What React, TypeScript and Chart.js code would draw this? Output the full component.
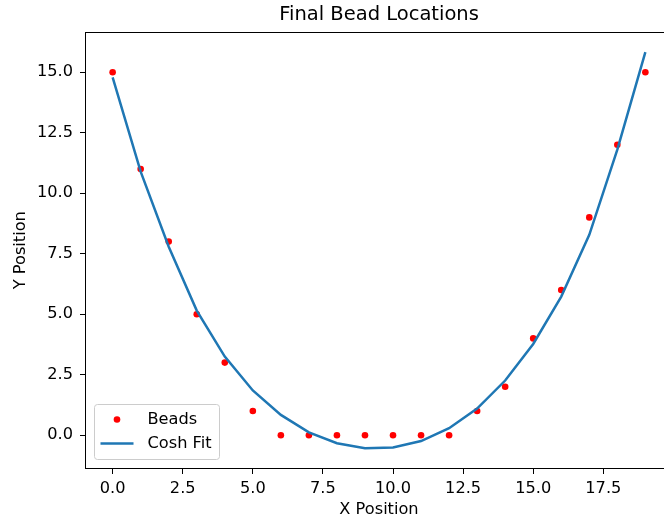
import React, { useEffect, useRef } from "react";
import { Chart, registerables } from "chart.js";

Chart.register(...registerables);

const xPositions = [0, 1, 2, 3, 4, 5, 6, 7, 8, 9, 10, 11, 12, 13, 14, 15, 16, 17, 18, 19];
const beadY = [15, 11, 8, 5, 3, 1, 0, 0, 0, 0, 0, 0, 0, 1, 2, 4, 6, 9, 12, 15];
const fitY = [14.79, 10.89, 7.79, 5.15, 3.25, 1.85, 0.84, 0.12, -0.33, -0.54, -0.51, -0.24, 0.29, 1.1, 2.26, 3.77, 5.73, 8.28, 11.8, 15.83];
const xTicks = [0, 2.5, 5, 7.5, 10, 12.5, 15, 17.5];
const yTicks = [0, 2.5, 5, 7.5, 10, 12.5, 15];
const seriesNames = ["Beads", "Cosh Fit"];

const FONT = "'DejaVu Sans', sans-serif";
const BEAD_COLOR = "#ff0000";
const FIT_COLOR = "#1f77b4";
const FS = 16.2;

const framePlugin = {
  id: "frameAndLegend",
  afterDraw(chart: any) {
    const { ctx, chartArea } = chart;
    const { left, right, top, bottom } = chartArea;
    ctx.save();
    // spines
    ctx.strokeStyle = "#000";
    ctx.lineWidth = 1;
    ctx.strokeRect(Math.round(left) - 0.5, Math.round(top) + 0.5, right - left, Math.round(bottom) - Math.round(top));

    // legend
    const bx = left + 8.5;
    const bw = 125;
    const bh = 55;
    const by = bottom - 8.5 - bh;
    const r = 3;
    ctx.beginPath();
    ctx.moveTo(bx + r, by);
    ctx.lineTo(bx + bw - r, by);
    ctx.arcTo(bx + bw, by, bx + bw, by + r, r);
    ctx.lineTo(bx + bw, by + bh - r);
    ctx.arcTo(bx + bw, by + bh, bx + bw - r, by + bh, r);
    ctx.lineTo(bx + r, by + bh);
    ctx.arcTo(bx, by + bh, bx, by + bh - r, r);
    ctx.lineTo(bx, by + r);
    ctx.arcTo(bx, by, bx + r, by, r);
    ctx.closePath();
    ctx.fillStyle = "rgba(255,255,255,0.8)";
    ctx.fill();
    ctx.strokeStyle = "#cccccc";
    ctx.lineWidth = 1;
    ctx.stroke();

    const row1 = by + 15;
    const row2 = by + 39;
    ctx.fillStyle = BEAD_COLOR;
    ctx.beginPath();
    ctx.arc(bx + 22.5, row1, 3.3, 0, Math.PI * 2);
    ctx.fill();
    ctx.strokeStyle = FIT_COLOR;
    ctx.lineWidth = 2.5;
    ctx.beginPath();
    ctx.moveTo(bx + 6, row2);
    ctx.lineTo(bx + 39, row2);
    ctx.stroke();

    ctx.fillStyle = "#000";
    ctx.font = `${FS}px ${FONT}`;
    ctx.textBaseline = "middle";
    ctx.textAlign = "left";
    ctx.fillText(seriesNames[0], bx + 53, row1);
    ctx.fillText(seriesNames[1], bx + 53, row2);
    ctx.restore();
  },
};

export default function App() {
  const ref = useRef<HTMLCanvasElement | null>(null);

  useEffect(() => {
    if (!ref.current) return;
    const beads = xPositions.map((x, i) => ({ x, y: beadY[i] }));
    const fit = xPositions.map((x, i) => ({ x, y: fitY[i] }));
    const tickFont = { family: FONT, size: FS };
    const chart = new Chart(ref.current, {
      type: "scatter",
      data: {
        datasets: [
          {
            label: seriesNames[1],
            data: fit,
            showLine: true,
            borderColor: FIT_COLOR,
            backgroundColor: FIT_COLOR,
            borderWidth: 2.5,
            pointRadius: 0,
            tension: 0,
          },
          {
            label: seriesNames[0],
            data: beads,
            showLine: false,
            pointRadius: 3.3,
            pointBorderWidth: 0,
            backgroundColor: BEAD_COLOR,
            borderColor: BEAD_COLOR,
          },
        ],
      },
      options: {
        responsive: false,
        animation: false,
        devicePixelRatio: 1,
        layout: { padding: { left: 0, right: 28, top: 0, bottom: 0 } },
        plugins: {
          legend: { display: false },
          tooltip: { enabled: false },
          title: {
            display: true,
            text: "Final Bead Locations",
            color: "#000",
            fullSize: false,
            font: { family: FONT, size: 19.5, weight: "normal" },
            padding: { top: 3, bottom: 5.9 },
          },
        },
        scales: {
          x: {
            type: "linear",
            min: -0.95,
            max: 19.95,
            afterBuildTicks: (scale: any) => {
              scale.ticks = xTicks.map((v) => ({ value: v }));
            },
            afterFit: (scale: any) => {
              scale.height = 55;
            },
            ticks: {
              color: "#000",
              font: tickFont,
              padding: 4.6,
              maxRotation: 0,
              autoSkip: false,
              callback: (v: any) => Number(v).toFixed(1),
            },
            grid: {
              drawOnChartArea: false,
              drawTicks: true,
              tickLength: 6,
              color: "#000",
            },
            border: { display: false },
            title: {
              display: true,
              text: "X Position",
              color: "#000",
              font: { family: FONT, size: FS },
              padding: { top: 0, bottom: 3.6 },
            },
          },
          y: {
            type: "linear",
            min: -1.355,
            max: 16.65,
            afterBuildTicks: (scale: any) => {
              scale.ticks = yTicks.map((v) => ({ value: v }));
            },
            afterFit: (scale: any) => {
              scale.width = 86;
            },
            ticks: {
              color: "#000",
              font: tickFont,
              padding: 7,
              autoSkip: false,
              callback: (v: any) => Number(v).toFixed(1),
            },
            grid: {
              drawOnChartArea: false,
              drawTicks: true,
              tickLength: 6,
              color: "#000",
            },
            border: { display: false },
            title: {
              display: true,
              text: "Y Position",
              color: "#000",
              font: { family: FONT, size: FS },
              padding: { top: 11.5, bottom: 0 },
            },
          },
        },
      },
      plugins: [framePlugin],
    } as any);
    return () => chart.destroy();
  }, []);

  return (
    <div style={{ position: "absolute", left: 0, top: 0, width: 664, height: 523, overflow: "hidden", background: "#fff" }}>
      <canvas ref={ref} width={700} height={523} style={{ display: "block", width: 700, height: 523 }} />
    </div>
  );
}
